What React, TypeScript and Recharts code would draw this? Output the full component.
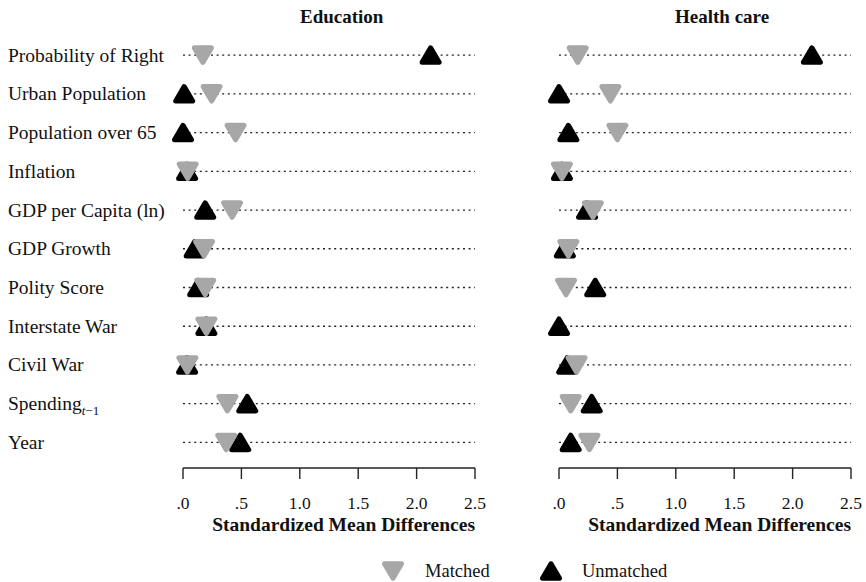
import React from 'react';
import { ScatterChart, Scatter, XAxis, YAxis, ReferenceLine } from 'recharts';

// Balance diagnostics: standardized mean differences before/after matching
const variables = [
  'Probability of Right',
  'Urban Population',
  'Population over 65',
  'Inflation',
  'GDP per Capita (ln)',
  'GDP Growth',
  'Polity Score',
  'Interstate War',
  'Civil War',
  'Spending',
  'Year',
];
const subscripts: Record<string, string> = { Spending: 't' };

const eduMatched = [0.17, 0.245, 0.45, 0.04, 0.42, 0.18, 0.19, 0.2, 0.037, 0.38, 0.37];
const eduUnmatched = [2.12, 0.01, 0.0, 0.035, 0.19, 0.1, 0.13, 0.2, 0.035, 0.55, 0.49];
const healthMatched: (number | null)[] = [0.16, 0.44, 0.5, 0.025, 0.29, 0.08, 0.06, null, 0.15, 0.1, 0.26];
const healthUnmatched = [2.165, 0.0, 0.08, 0.025, 0.24, 0.05, 0.31, 0.0, 0.07, 0.28, 0.1];

const xTicks = [0, 0.5, 1, 1.5, 2, 2.5];
const xTickLabels = ['.0', '.5', '1.0', '1.5', '2.0', '2.5'];
const rowTicks = variables.map((_, i) => i);

const GRAY = '#a7a7a7';
const BLACK = '#000000';
const FONT = '"Liberation Serif", "Times New Roman", serif';

const toPoints = (vals: (number | null)[]) =>
  vals
    .map((v, i) => (v == null ? null : { x: v, y: i, name: variables[i] }))
    .filter((p) => p !== null) as { x: number; y: number; name: string }[];

function Tri({ cx, cy, up, fill }: { cx: number; cy: number; up: boolean; fill: string }) {
  const w = 17;
  const h = 14.5;
  const d = up
    ? `M${cx},${cy - h / 2} L${cx + w / 2},${cy + h / 2} L${cx - w / 2},${cy + h / 2} Z`
    : `M${cx},${cy + h / 2} L${cx + w / 2},${cy - h / 2} L${cx - w / 2},${cy - h / 2} Z`;
  return <path d={d} fill={fill} stroke={fill} strokeWidth={5} strokeLinejoin="round" />;
}

const upShape = (p: any) => <Tri cx={p.cx} cy={p.cy} up fill={BLACK} />;
const downShape = (p: any) => <Tri cx={p.cx} cy={p.cy} up={false} fill={GRAY} />;

const RowLabel = (props: any) => {
  const name = variables[props.payload.value];
  const sub = subscripts[name];
  return (
    <text x={8} y={props.y + 6.5} fontSize={19.5} fontFamily={FONT} fill="#111" textAnchor="start">
      <tspan>{name}</tspan>
      {sub && (
        <>
          <tspan fontSize={13} fontStyle="italic" dy={5}>{sub}</tspan>
          <tspan fontSize={13}>−1</tspan>
        </>
      )}
    </text>
  );
};

const XTick = (props: any) => {
  const idx = xTicks.indexOf(props.payload.value);
  return (
    <text x={props.x} y={509} fontSize={17.5} fontFamily={FONT} fill="#111" textAnchor="middle">
      {xTickLabels[idx]}
    </text>
  );
};

function Panel({
  matched,
  unmatched,
  showLabels,
  left,
  width,
  yWidth,
  titleEnd,
}: {
  matched: (number | null)[];
  unmatched: (number | null)[];
  showLabels: boolean;
  left: number;
  width: number;
  yWidth: number;
  titleEnd: number;
}) {
  return (
    <div style={{ position: 'absolute', left, top: 0 }}>
      <ScatterChart width={width} height={582} margin={{ top: 28, right: width - yWidth - 292, bottom: 54, left: 0 }}>
        <XAxis
          type="number"
          dataKey="x"
          domain={[0, 2.5]}
          ticks={xTicks}
          interval={0}
          height={60}
          tickSize={11}
          axisLine={{ stroke: '#222', strokeWidth: 1.4 }}
          tickLine={{ stroke: '#222', strokeWidth: 1.4 }}
          tick={<XTick />}
          label={{
            content: () => (
              <text x={titleEnd} y={531} textAnchor="end" fontSize={19.5} fontWeight="bold" fontFamily={FONT} fill="#111">
                Standardized Mean Differences
              </text>
            ),
          }}
        />
        <YAxis
          type="number"
          dataKey="y"
          domain={[-0.7, 10.66]}
          reversed
          ticks={rowTicks}
          interval={0}
          width={yWidth}
          axisLine={false}
          tickLine={false}
          tick={showLabels ? <RowLabel /> : false}
        />
        {rowTicks.map((t) => (
          <ReferenceLine
            key={t}
            segment={[
              { x: 0, y: t },
              { x: 2.5, y: t },
            ]}
            stroke="#222"
            strokeWidth={1.3}
            strokeDasharray="2 3.6"
          />
        ))}
        <Scatter data={toPoints(unmatched)} shape={upShape} isAnimationActive={false} />
        <Scatter data={toPoints(matched)} shape={downShape} isAnimationActive={false} />
      </ScatterChart>
    </div>
  );
}

export default function App() {
  return (
    <div style={{ position: 'absolute', left: 0, top: 0, width: 866, height: 582, background: '#fff', fontFamily: FONT }}>
      <Panel matched={eduMatched} unmatched={eduUnmatched} showLabels left={0} width={495} yWidth={183} titleEnd={475} />
      <Panel matched={healthMatched} unmatched={healthUnmatched} showLabels={false} left={480} width={386} yWidth={79} titleEnd={371} />
      <svg width={866} height={582} style={{ position: 'absolute', left: 0, top: 0, pointerEvents: 'none' }}>
        <text x={300} y={23} fontSize={19} fontWeight="bold" fontFamily={FONT} fill="#111">Education</text>
        <text x={675} y={23} fontSize={19} fontWeight="bold" fontFamily={FONT} fill="#111">Health care</text>
        <Tri cx={393} cy={571} up={false} fill={GRAY} />
        <text x={425} y={577} fontSize={18.5} fontFamily={FONT} fill="#111">Matched</text>
        <Tri cx={551} cy={571} up fill={BLACK} />
        <text x={582} y={577} fontSize={18.5} fontFamily={FONT} fill="#111">Unmatched</text>
      </svg>
    </div>
  );
}
